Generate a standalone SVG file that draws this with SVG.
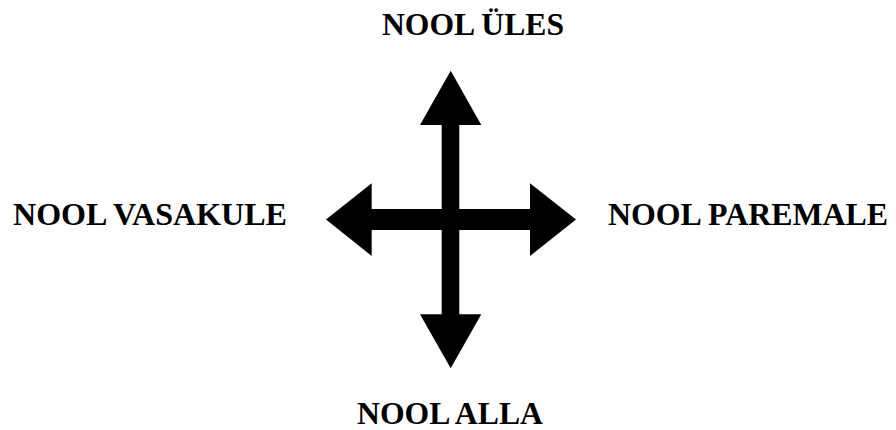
<svg xmlns="http://www.w3.org/2000/svg" width="896" height="430" viewBox="0 0 896 430">
<style>
.lbl{font-family:"Liberation Serif","Times New Roman",serif;font-weight:bold;font-size:31.5px;fill:#000}
.arr{fill:#000;stroke:none}
</style>
<rect width="896" height="430" fill="#fff"/>
<g id="connectors">
<rect class="arr" x="441.7" y="124" width="17.6" height="191"/>
<rect class="arr" x="371" y="209" width="160" height="21"/>
<polygon class="arr" points="450.7,70.7 420,125 481.3,125"/>
<polygon class="arr" points="450.7,368.3 420,314.3 481.3,314.3"/>
<polygon class="arr" points="326,219.5 371.7,183.3 371.7,256"/>
<polygon class="arr" points="576,219.5 530,183.3 530,256"/>
</g>
<g id="up"><text class="lbl" x="382" y="35" textLength="182" lengthAdjust="spacingAndGlyphs">NOOL ÜLES</text></g>
<g id="left"><text class="lbl" x="13" y="225" textLength="274" lengthAdjust="spacingAndGlyphs">NOOL VASAKULE</text></g>
<g id="right"><text class="lbl" x="608" y="225" textLength="280" lengthAdjust="spacingAndGlyphs">NOOL PAREMALE</text></g>
<g id="down"><text class="lbl" x="357" y="423.5" textLength="186" lengthAdjust="spacingAndGlyphs">NOOL ALLA</text></g>
</svg>
